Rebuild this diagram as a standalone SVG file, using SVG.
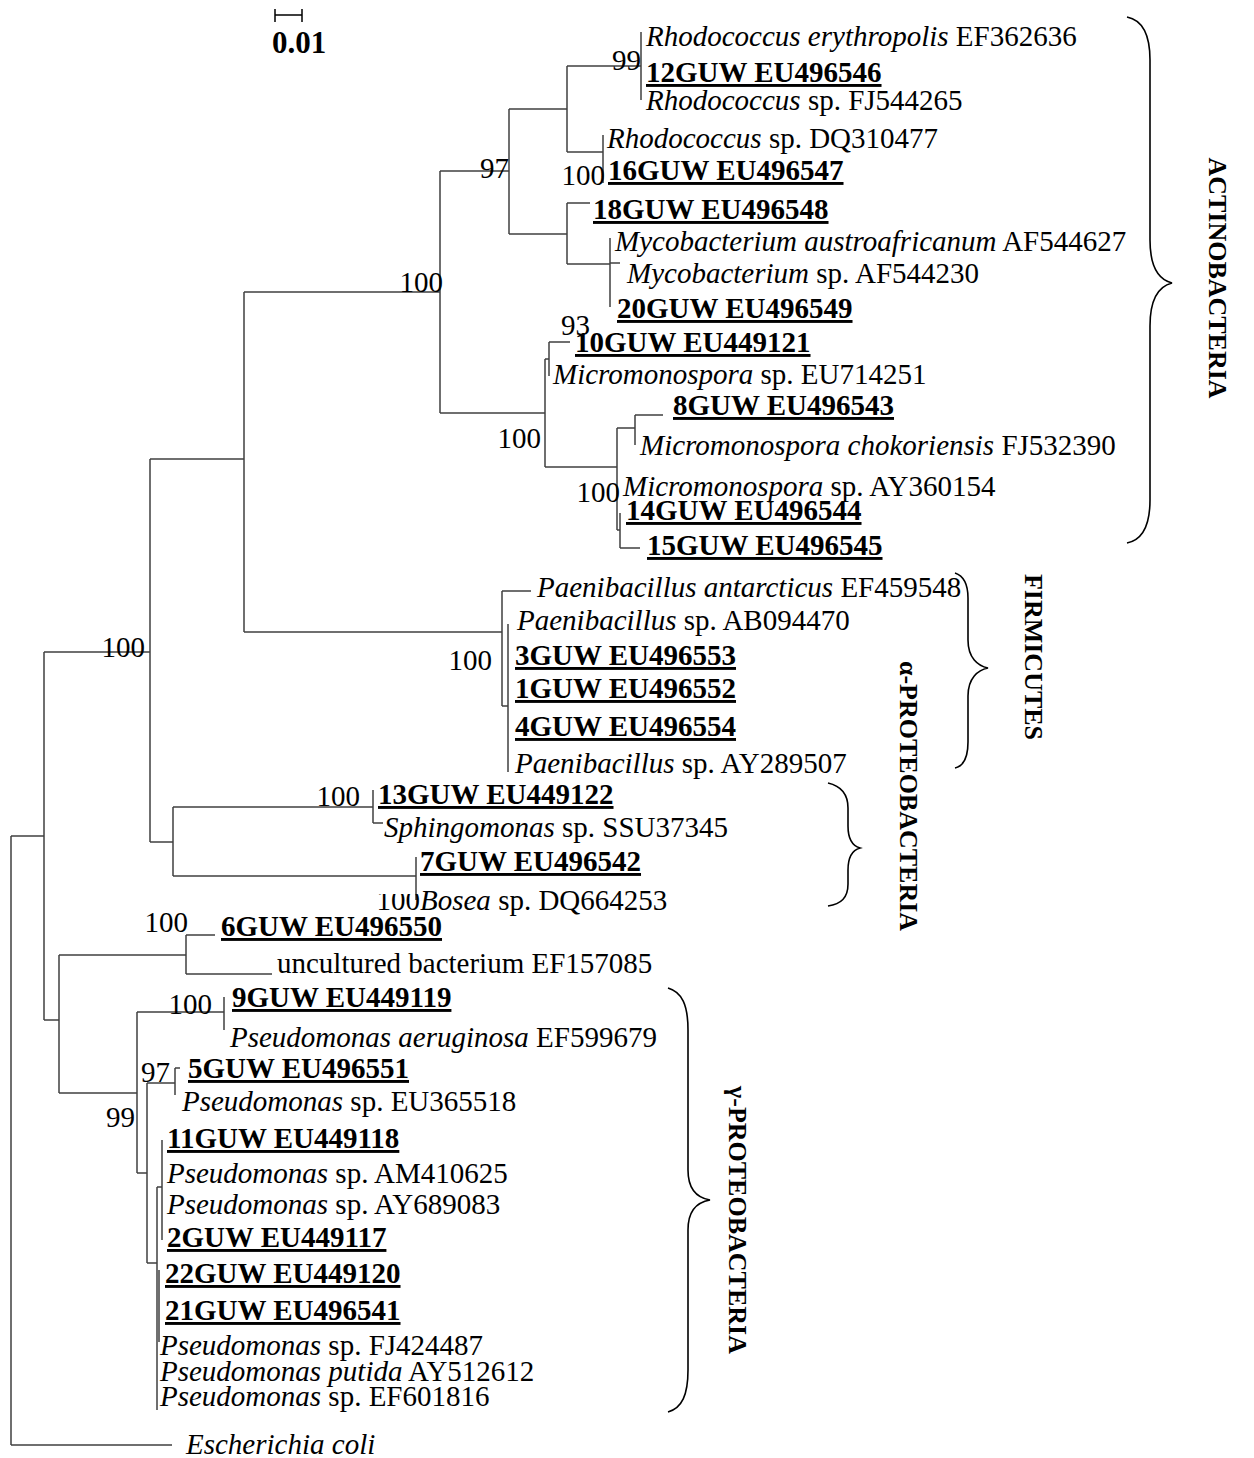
<svg xmlns="http://www.w3.org/2000/svg" width="1254" height="1458" viewBox="0 0 1254 1458">
<style>
text{font-family:"Liberation Serif","Times New Roman",serif;font-size:29px;fill:#000}
.i{font-style:italic}
.b{font-weight:bold;text-decoration:underline;text-decoration-thickness:3px;text-underline-offset:3px}
.bs{text-anchor:end}
.v{font-weight:bold;font-size:26px}
.br{fill:none;stroke:#000;stroke-width:1.6}
#tree path{fill:none;stroke:#404040;stroke-width:1.5}
</style>
<defs><clipPath id="cb"><rect x="360" y="894" width="70" height="30"/></clipPath></defs>
<rect width="1254" height="1458" fill="#fff"/>
<g id="scale">
<path d="M275,15H302M275,9V22M302,9V22" fill="none" stroke="#000" stroke-width="1.5"/>
<text x="272" y="53" style="font-weight:bold;font-size:31px">0.01</text>
</g>
<g id="tree">
<path d="M11,836V1445M11,1445H172M11,836H44M44,652V1020M44,652H150M150,459V842M150,459H244M244,292V632M244,292H440M244,632H502"/>
<path d="M440,171V413M440,171H509M440,413H545M509,109V234M509,109H567M509,234H567M567,66V152M567,66H641M641,32V100M567,152H603M603,135V183M567,203V264M567,203H590M567,264H610M610,238V307M610,263H620"/>
<path d="M545,359V467M545,359H549M549,342V376M549,342H570M545,467H617M617,428V530M617,428H635M635,415V445M635,415H663M617,530H620M620,513V548M620,548H640"/>
<path d="M502,591V706M502,591H531M502,706H508M508,624V772"/>
<path d="M150,842H173M173,807V876M173,807H373M373,790V823M373,823H383M173,876H416M416,857V900"/>
<path d="M44,1020H59M59,955V1093M59,955H186M186,935V974M186,935H215M186,974H272M59,1093H137M137,1012V1173M137,1012H224M224,997V1030M137,1173H147M147,1083V1263M147,1083H175M175,1068V1095M175,1068H180M147,1263H157M157,1187V1410M157,1187H162M162,1140V1240M159,1270V1342"/>
</g>
<g id="bootstrap">
<text class="bs" x="641" y="70">99</text>
<text class="bs" x="509" y="178">97</text>
<text class="bs" x="605" y="185">100</text>
<text class="bs" x="443" y="292">100</text>
<text class="bs" x="590" y="335">93</text>
<text class="bs" x="541" y="448">100</text>
<text class="bs" x="620" y="502">100</text>
<text class="bs" x="492" y="670">100</text>
<text class="bs" x="145" y="657">100</text>
<text class="bs" x="360" y="806">100</text>
<text class="bs" x="420" y="910" clip-path="url(#cb)">100</text>
<text class="bs" x="188" y="932">100</text>
<text class="bs" x="212" y="1014">100</text>
<text class="bs" x="170" y="1082">97</text>
<text class="bs" x="135" y="1127">99</text>
</g>
<g id="leaves">
<g id="n1"><text x="646" y="46"><tspan class="i">Rhodococcus erythropolis</tspan> EF362636</text></g>
<g id="n2"><text class="b" x="646" y="82">12GUW EU496546</text></g>
<g id="n3"><text x="646" y="110"><tspan class="i">Rhodococcus</tspan> sp. FJ544265</text></g>
<g id="n4"><text x="607" y="148"><tspan class="i">Rhodococcus</tspan> sp. DQ310477</text></g>
<g id="n5"><text class="b" x="608" y="180">16GUW EU496547</text></g>
<g id="n6"><text class="b" x="593" y="219">18GUW EU496548</text></g>
<g id="n7"><text x="615" y="251"><tspan class="i">Mycobacterium austroafricanum</tspan> AF544627</text></g>
<g id="n8"><text x="627" y="283"><tspan class="i">Mycobacterium</tspan> sp. AF544230</text></g>
<g id="n9"><text class="b" x="617" y="318">20GUW EU496549</text></g>
<g id="n10"><text class="b" x="575" y="352">10GUW EU449121</text></g>
<g id="n11"><text x="553" y="384"><tspan class="i">Micromonospora</tspan> sp. EU714251</text></g>
<g id="n12"><text class="b" x="673" y="415">8GUW EU496543</text></g>
<g id="n13"><text x="640" y="455"><tspan class="i">Micromonospora chokoriensis</tspan> FJ532390</text></g>
<g id="n14"><text x="623" y="496"><tspan class="i">Micromonospora</tspan> sp. AY360154</text></g>
<g id="n15"><text class="b" x="626" y="520">14GUW EU496544</text></g>
<g id="n16"><text class="b" x="647" y="555">15GUW EU496545</text></g>
<g id="n17"><text x="537" y="597"><tspan class="i">Paenibacillus antarcticus</tspan> EF459548</text></g>
<g id="n18"><text x="517" y="630"><tspan class="i">Paenibacillus</tspan> sp. AB094470</text></g>
<g id="n19"><text class="b" x="515" y="665">3GUW EU496553</text></g>
<g id="n20"><text class="b" x="515" y="698">1GUW EU496552</text></g>
<g id="n21"><text class="b" x="515" y="736">4GUW EU496554</text></g>
<g id="n22"><text x="515" y="773"><tspan class="i">Paenibacillus</tspan> sp. AY289507</text></g>
<g id="n23"><text class="b" x="378" y="804">13GUW EU449122</text></g>
<g id="n24"><text x="384" y="837"><tspan class="i">Sphingomonas</tspan> sp. SSU37345</text></g>
<g id="n25"><text class="b" x="420" y="871">7GUW EU496542</text></g>
<g id="n26"><text x="420" y="910"><tspan class="i">Bosea</tspan> sp. DQ664253</text></g>
<g id="n27"><text class="b" x="221" y="936">6GUW EU496550</text></g>
<g id="n28"><text x="277" y="973">uncultured bacterium EF157085</text></g>
<g id="n29"><text class="b" x="232" y="1007">9GUW EU449119</text></g>
<g id="n30"><text x="230" y="1047"><tspan class="i">Pseudomonas aeruginosa</tspan> EF599679</text></g>
<g id="n31"><text class="b" x="188" y="1078">5GUW EU496551</text></g>
<g id="n32"><text x="182" y="1111"><tspan class="i">Pseudomonas</tspan> sp. EU365518</text></g>
<g id="n33"><text class="b" x="167" y="1148">11GUW EU449118</text></g>
<g id="n34"><text x="167" y="1183"><tspan class="i">Pseudomonas</tspan> sp. AM410625</text></g>
<g id="n35"><text x="167" y="1214"><tspan class="i">Pseudomonas</tspan> sp. AY689083</text></g>
<g id="n36"><text class="b" x="167" y="1247">2GUW EU449117</text></g>
<g id="n37"><text class="b" x="165" y="1283">22GUW EU449120</text></g>
<g id="n38"><text class="b" x="165" y="1320">21GUW EU496541</text></g>
<g id="n39"><text x="160" y="1355"><tspan class="i">Pseudomonas</tspan> sp. FJ424487</text></g>
<g id="n40"><text x="160" y="1381"><tspan class="i">Pseudomonas putida</tspan> AY512612</text></g>
<g id="n41"><text x="160" y="1406"><tspan class="i">Pseudomonas</tspan> sp. EF601816</text></g>
<g id="n42"><text class="i" x="186" y="1454">Escherichia coli</text></g>
</g>
<g id="groups">
<path class="br" d="M1127,17C1142,20 1150,35 1150,60L1150,240C1150,268 1160,280 1172,283C1160,286 1150,298 1150,326L1150,500C1150,525 1142,540 1127,543"/>
<text class="v" transform="translate(1209,278) rotate(90)" text-anchor="middle">ACTINOBACTERIA</text>
<path class="br" d="M955,573C964,576 968,585 968,598L968,640C968,658 978,666 988,668C978,670 968,678 968,696L968,742C968,758 964,766 955,768"/>
<text class="v" transform="translate(1025,657) rotate(90)" text-anchor="middle">FIRMICUTES</text>
<path class="br" d="M828,783C841,786 848,795 848,808L848,826C848,840 853,846 860,848C853,850 848,856 848,870L848,884C848,898 841,904 828,906"/>
<text class="v" transform="translate(900,796) rotate(90)" text-anchor="middle">α-PROTEOBACTERIA</text>
<path class="br" d="M668,988C682,992 688,1005 688,1030L688,1170C688,1190 698,1198 710,1200C698,1202 688,1210 688,1230L688,1370C688,1395 682,1408 668,1412"/>
<text class="v" transform="translate(729,1220) rotate(90)" text-anchor="middle">γ-PROTEOBACTERIA</text>
</g>
</svg>
